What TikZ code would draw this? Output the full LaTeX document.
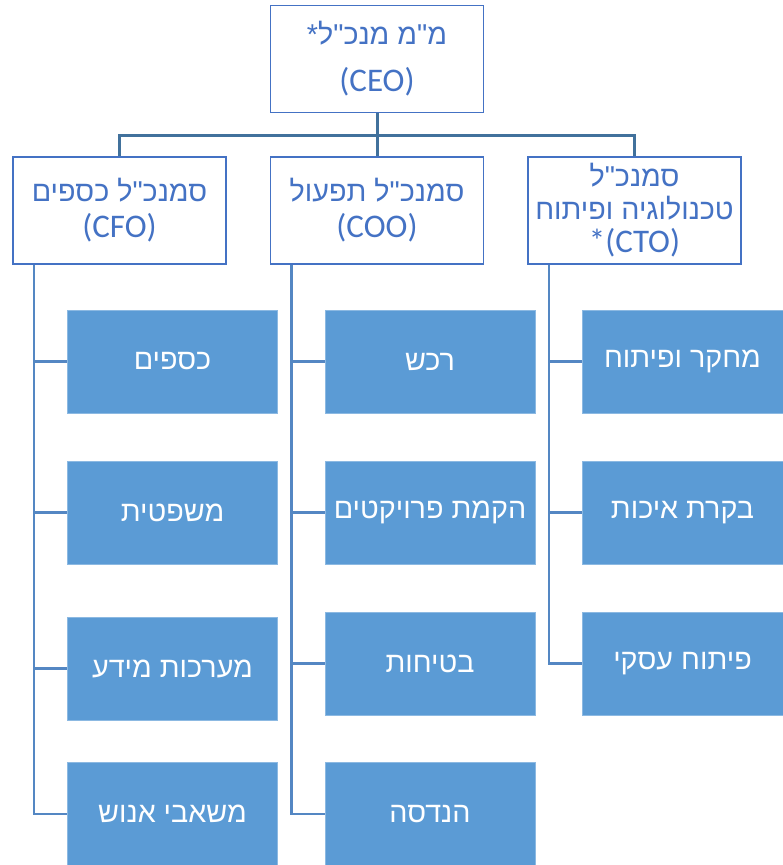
\documentclass[tikz,border=0pt]{standalone}
\usepackage{fontspec}
\setmainfont{Carlito}
\newfontfamily\hebfont[Script=Hebrew, Scale=0.87]{Liberation Sans}
\TeXXeTstate=1
\newcommand{\heb}[1]{{\hebfont\beginR #1\endR}}
\usetikzlibrary{positioning, calc}
\definecolor{mgrblue}{RGB}{68,114,196}
\definecolor{unitblue}{RGB}{91,155,213}
\definecolor{busblue}{RGB}{65,113,156}
\definecolor{spineblue}{RGB}{84,135,195}

\begin{document}
\begin{tikzpicture}[
    x=1pt, y=-1pt,
    mgrbox/.style={rectangle, draw=mgrblue, line width=1.8pt, fill=white, minimum width=213pt, minimum height=107pt, text=mgrblue, align=center, inner sep=2pt, font=\fontsize{33}{36}\selectfont},
    unitbox/.style={rectangle, fill=unitblue, draw=unitblue!70!white, line width=0.8pt, minimum width=210pt, minimum height=103pt, text=white, align=center, font=\fontsize{33}{36}\selectfont},
    bus/.style={draw=busblue, line width=3pt},
    link/.style={draw=spineblue, line width=2.4pt}
]
\useasboundingbox (0,0) rectangle (783,865);

% top level
\node[mgrbox, font=\fontsize{33}{47}\selectfont] (ceo) at (377,59) {\heb{מ"מ מנכ"ל*}\\(CEO)};

% managers
\node[mgrbox] (cfo) at (119.5,210.5) {\heb{סמנכ"ל כספים}\\(CFO)};
\node[mgrbox] (coo) at (377,210.5) {\heb{סמנכ"ל תפעול}\\(COO)};
\node[mgrbox, font=\fontsize{33}{33}\selectfont] (cto) at (634.5,210.5) {\heb{סמנכ"ל}\\\heb{טכנולוגיה ופיתוח}\\*(CTO)};

% units under CFO
\node[unitbox] (f1) at (172.5,361.5) {\heb{כספים}};
\node[unitbox] (f2) at (172.5,512.5) {\heb{משפטית}};
\node[unitbox] (f3) at (172.5,668.5) {\heb{מערכות מידע}};
\node[unitbox] (f4) at (172.5,814) {\heb{משאבי אנוש}};

% units under COO
\node[unitbox] (o1) at (430,361.5) {\heb{רכש}};
\node[unitbox] (o2) at (430,512.5) {\heb{הקמת פרויקטים}};
\node[unitbox] (o3) at (430,663.5) {\heb{בטיחות}};
\node[unitbox] (o4) at (430,814) {\heb{הנדסה}};

% units under CTO
\node[unitbox, minimum width=201pt] (t1) at (682.5,361.5) {\heb{מחקר ופיתוח}};
\node[unitbox, minimum width=201pt] (t2) at (682.5,512.5) {\heb{בקרת איכות}};
\node[unitbox, minimum width=201pt] (t3) at (682.5,663.5) {\heb{פיתוח עסקי}};

% connectors
\coordinate (hub) at (377,135);
\draw[bus] (ceo.south) -- (hub);
\foreach \m in {cfo,coo,cto}
    \draw[bus] (\m.north) |- (hub);

\foreach \u in {f1,f2,f3,f4}
    \draw[link] ([xshift=22pt]cfo.south west) |- (\u.west);
\foreach \u in {o1,o2,o3,o4}
    \draw[link] ([xshift=22pt]coo.south west) |- (\u.west);
\foreach \u in {t1,t2,t3}
    \draw[link] ([xshift=22pt]cto.south west) |- (\u.west);

\end{tikzpicture}
\end{document}
